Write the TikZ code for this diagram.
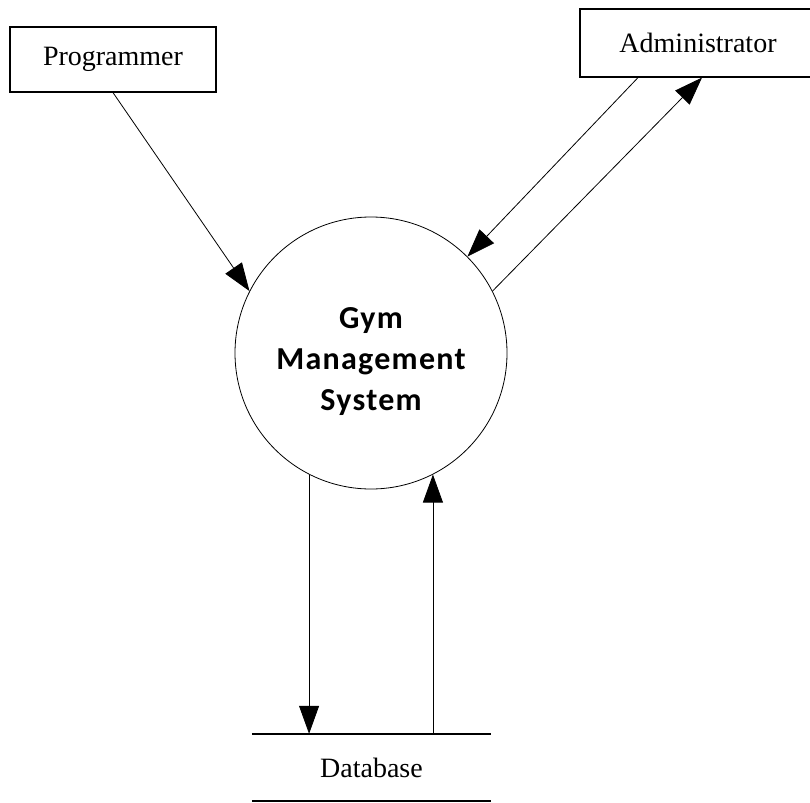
\documentclass[tikz,border=0pt]{standalone}
\usepackage{fontspec}
\setmainfont{Liberation Serif}
\newfontfamily\gymfont[LetterSpace=4]{Carlito}
\usetikzlibrary{arrows.meta}

\begin{document}
\begin{tikzpicture}[x=1pt, y=-1pt,
  entity/.style={draw, line width=1.2pt, inner sep=0pt, font=\fontsize{28}{30}\selectfont},
  flow/.style={line width=0.8pt, -{Triangle[length=28pt,width=20pt]}},
  store/.style={line width=1.6pt},
  process/.style={circle, draw, line width=0.8pt, minimum size=272pt, inner sep=0pt}]
\useasboundingbox (0,0) rectangle (810,802);
%\draw [lightgray](0,0) grid[step=50] (810,802);

\node [entity, minimum width=206pt, minimum height=65pt] (prog) at (113,59.5){Programmer};
\node [entity, minimum width=236pt, minimum height=68pt] (admin) at (698,43){Administrator};

\node [process] (gms) at (371,353){};
\node [align=center, font=\gymfont\bfseries\fontsize{32}{41}\selectfont] (gmstext) at (371,362){Gym\\Management\\System};

\node [minimum width=239pt, minimum height=67pt, inner sep=0pt, font=\fontsize{28}{30}\selectfont] (db) at (371.5,767.5){Database};
\draw [store](db.north west) -- (db.north east);
\draw [store](db.south west) -- (db.south east);

\draw [flow](prog.south) -- (gms.153);
\draw [flow]([xshift=-60pt]admin.south) -- (gms.45);
\draw [flow](gms.27) -- ([xshift=4pt]admin.south);
\draw [flow](gms.243) -- (gms.243 |- db.north);
\draw [flow](gms.297 |- db.north) -- (gms.297);
\end{tikzpicture}
\end{document}
